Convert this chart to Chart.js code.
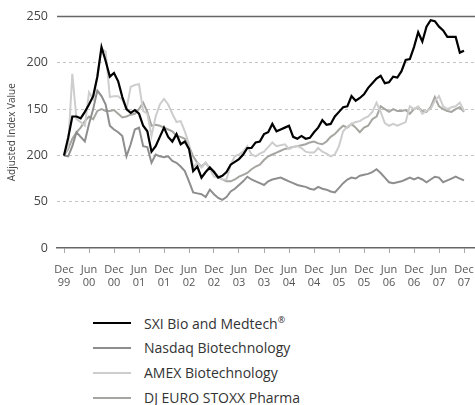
<!DOCTYPE html>
<html>
<head>
<meta charset="utf-8">
<script src="https://cdn.jsdelivr.net/npm/chart.js@4.4.1/dist/chart.umd.min.js"></script>
<style>
  body { margin: 0; background: #fff; font-family: "Open Sans", sans-serif; }
  #wrap { position: relative; width: 475px; height: 405px; }
  #chartBox { position: absolute; left: 0; top: 0; width: 475px; height: 292px; }
  #legend { position: absolute; left: 93px; top: 310px; }
  .item { height: 25px; display: flex; align-items: center; font-size: 14px; color: #333; white-space: nowrap; }
  .swatch { width: 38px; margin-right: 13px; }
  sup { font-size: 9px; }
</style>
</head>
<body>
<div id="wrap">
  <div id="chartBox"><canvas id="chart" width="475" height="292"></canvas></div>
  <div id="legend"></div>
</div>
<script>
// monthly values, Dec 99 .. Dec 07
const xTickLabels = [
  ['Dec','99'],['Jun','00'],['Dec','00'],['Jun','01'],['Dec','01'],['Jun','02'],
  ['Dec','02'],['Jun','03'],['Dec','03'],['Jun','04'],['Dec','04'],['Jun','05'],
  ['Dec','05'],['Jun','06'],['Dec','06'],['Jun','07'],['Dec','07']
];
const yTickLabels = ['0', '50', '200', '150', '200', '250'];

const sxi = [100,119,142,142,140,147,155,164,185,217,
  202,185,189,180,163,150,146,149,145,132,
  126,104,110,120,130,120,115,123,112,115,
  107,83,88,76,82,87,82,76,78,82,
  90,93,96,101,108,108,114,115,123,125,
  134,126,128,130,132,120,118,121,118,119,
  125,130,138,133,134,142,147,152,153,164,
  159,162,166,173,178,183,186,178,179,185,
  184,191,203,204,217,233,223,239,246,245,
  239,235,228,228,228,211,213];

const nasdaq = [100,99,110,125,120,115,134,150,170,164,
  155,132,128,125,121,99,112,128,130,110,
  109,92,101,99,98,99,94,92,88,83,
  72,60,59,58,55,63,58,54,52,55,
  61,64,68,72,77,74,72,70,68,72,
  74,75,76,74,72,70,68,67,66,64,
  63,66,64,63,61,60,65,70,74,76,
  75,78,79,80,82,85,81,76,71,70,
  71,72,74,76,74,76,74,71,74,77,
  76,71,73,75,77,75,73];

const amex = [100,110,188,139,136,132,168,161,185,215,
  212,163,164,164,160,150,174,176,177,148,
  145,121,142,155,161,155,145,136,137,126,
  112,87,92,87,92,85,77,76,74,74,
  90,99,101,104,110,101,99,102,104,109,
  114,110,111,112,107,109,110,108,104,103,
  103,108,104,102,99,101,110,126,131,134,
  136,137,140,142,147,157,147,135,132,134,
  132,134,136,153,150,153,145,148,150,159,
  164,153,150,152,153,157,148];

const stoxx = [100,107,118,125,130,137,142,139,148,150,
  148,148,149,145,141,142,144,145,150,157,
  147,132,133,132,130,128,126,121,120,118,
  110,99,92,88,92,86,83,77,74,72,
  72,74,77,79,81,85,88,90,95,99,
  101,103,105,107,108,109,110,111,112,114,
  115,113,112,115,120,123,128,132,130,134,
  130,125,130,132,139,142,153,150,147,150,
  148,148,149,145,150,152,148,147,152,163,
  153,150,148,147,150,152,147];

const months = sxi.map((v, i) => i);

Chart.defaults.font.family = "'Open Sans', sans-serif";
Chart.defaults.color = '#555';

// solid line along the top of the plot (250)
const topLine = {
  id: 'topLine',
  beforeDatasetsDraw(chart) {
    const { ctx, chartArea, scales } = chart;
    const y = scales.y.getPixelForValue(250);
    ctx.save();
    ctx.strokeStyle = '#666';
    ctx.lineWidth = 1.5;
    ctx.beginPath();
    ctx.moveTo(chartArea.left, y);
    ctx.lineTo(chartArea.right, y);
    ctx.stroke();
    ctx.restore();
  }
};

const chart = new Chart(document.getElementById('chart'), {
  type: 'line',
  data: {
    labels: months,
    datasets: [
      { label: 'SXI Bio and Medtech®', data: sxi, borderColor: '#000', borderWidth: 2.2 },
      { label: 'Nasdaq Biotechnology', data: nasdaq, borderColor: '#8e8e8e', borderWidth: 2 },
      { label: 'AMEX Biotechnology', data: amex, borderColor: '#cdcdcd', borderWidth: 2 },
      { label: 'DJ EURO STOXX Pharma', data: stoxx, borderColor: '#a6a5a0', borderWidth: 2 }
    ]
  },
  options: {
    responsive: false,
    animation: false,
    elements: { point: { radius: 0 }, line: { tension: 0 } },
    layout: { padding: { top: 12, right: 0, left: 0, bottom: 0 } },
    plugins: { legend: { display: false }, tooltip: { enabled: false } },
    scales: {
      x: {
        type: 'linear',
        min: -1.68,
        max: 98.64,
        afterBuildTicks: s => { s.ticks = xTickLabels.map((l, k) => ({ value: k * 6 })); },
        afterFit: s => { s.height = 44; s.paddingLeft = 0; s.paddingRight = 0; },
        ticks: {
          callback: v => xTickLabels[v / 6],
          font: { size: 11 },
          color: '#555',
          padding: 10,
          maxRotation: 0,
          autoSkip: false
        },
        grid: { drawOnChartArea: false, color: '#aaa', tickLength: 5 },
        border: { display: true, color: '#666', width: 1.5 }
      },
      y: {
        min: 0,
        max: 250,
        afterFit: s => { s.width = 57; },
        ticks: {
          stepSize: 50,
          callback: (v, i) => yTickLabels[i],
          font: { size: 12.5 },
          color: '#444',
          padding: 9
        },
        grid: {
          drawTicks: false,
          color: c => (c.tick && (c.tick.value === 0 || c.tick.value === 250)) ? 'rgba(0,0,0,0)' : '#c4c4c4'
        },
        border: { display: false, dash: [3, 3] },
        title: {
          display: true,
          text: 'Adjusted Index Value',
          font: { size: 10 },
          color: '#444',
          padding: { top: 6, bottom: 0 }
        }
      }
    }
  },
  plugins: [topLine]
});

// legend, one entry per row
const legend = document.getElementById('legend');
chart.data.datasets.forEach(ds => {
  const item = document.createElement('div');
  item.className = 'item';
  const sw = document.createElement('span');
  sw.className = 'swatch';
  sw.style.borderTop = ds.borderWidth + 'px solid ' + ds.borderColor;
  const txt = document.createElement('span');
  txt.innerHTML = ds.label.replace('®', '<sup>®</sup>');
  item.appendChild(sw);
  item.appendChild(txt);
  legend.appendChild(item);
});
</script>
</body>
</html>
